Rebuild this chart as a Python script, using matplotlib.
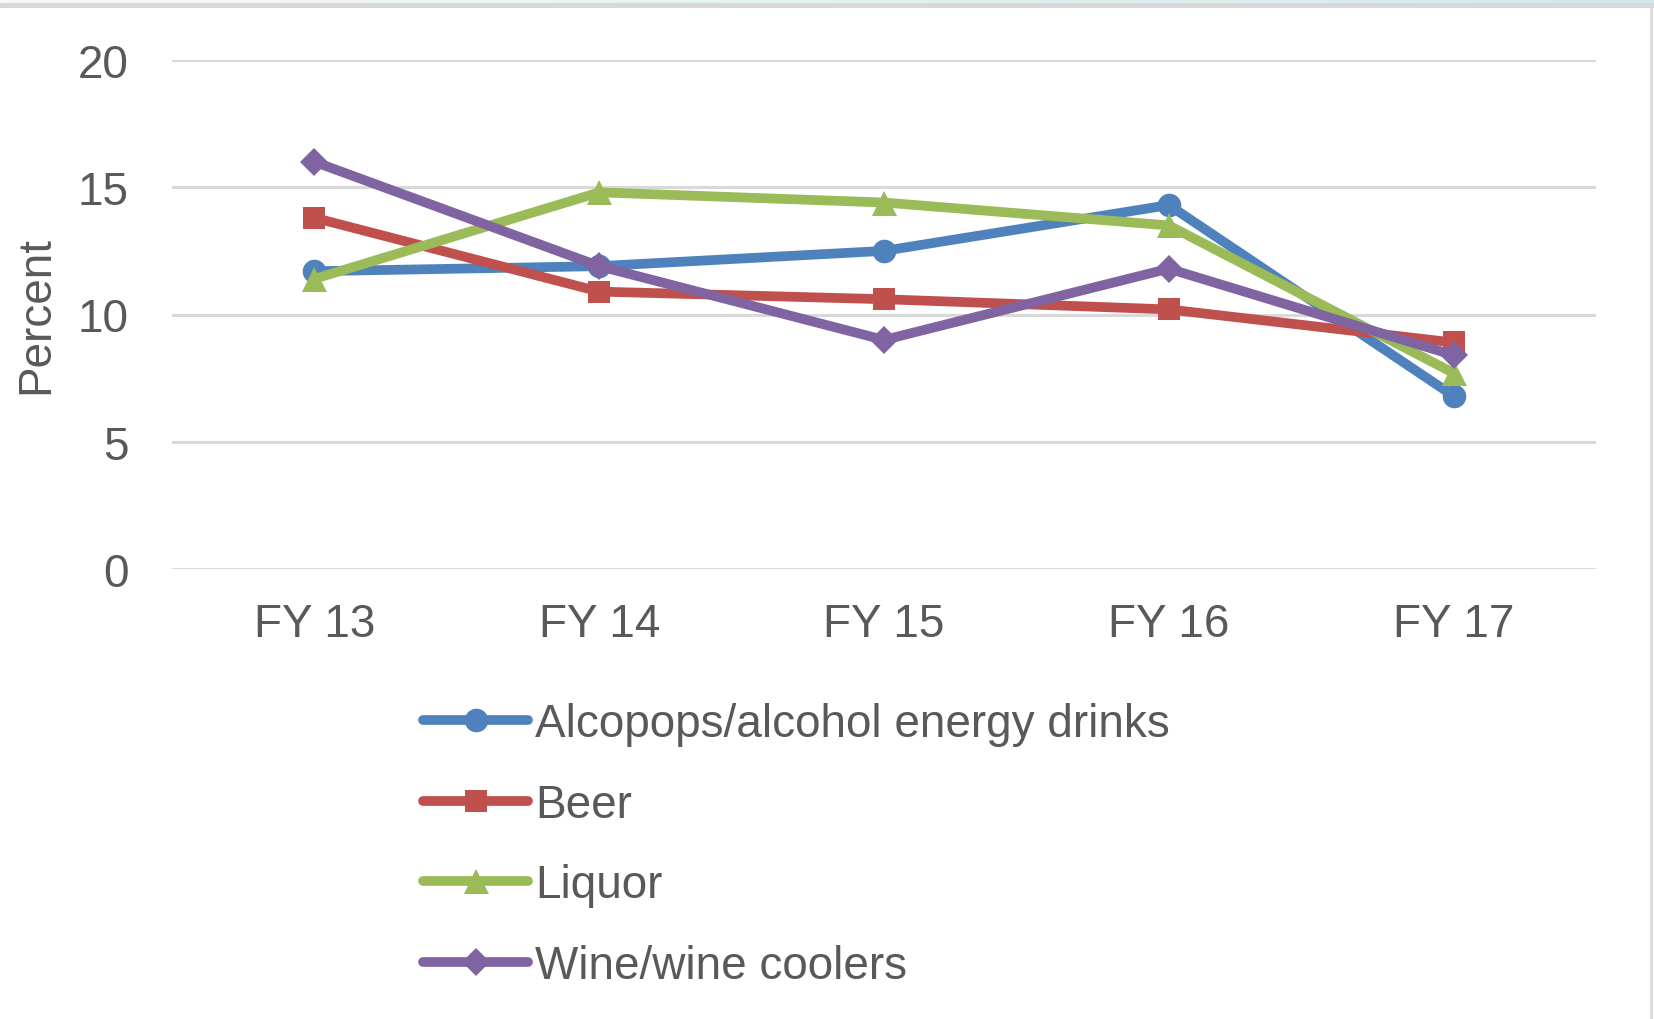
import matplotlib
matplotlib.use("Agg")
import matplotlib.pyplot as plt
from matplotlib.patches import Rectangle
from matplotlib.colors import LinearSegmentedColormap
import numpy as np

plt.rcParams['font.family'] = ['Liberation Sans', 'DejaVu Sans']

# 数据
years = ["FY 13", "FY 14", "FY 15", "FY 16", "FY 17"]
alcopops = [11.7, 11.9, 12.5, 14.3, 6.8]
beer = [13.8, 10.9, 10.6, 10.2, 8.9]
liquor = [11.4, 14.8, 14.4, 13.5, 7.7]
wine = [16.0, 11.9, 9.0, 11.8, 8.4]

series = [
    ("Alcopops/alcohol energy drinks", alcopops, "#4F81BD", "o", 17),
    ("Beer", beer, "#C0504D", "s", 16),
    ("Liquor", liquor, "#9BBB59", "^", 18),
    ("Wine/wine coolers", wine, "#8064A2", "D", 14),
]

text_color = "#595959"

fig = plt.figure(figsize=(16.54, 10.2), dpi=100)
fig.patch.set_facecolor("white")

# 顶部边框（浅青渐变 + 灰条）和右侧细线
grad = np.linspace(0, 1, 256).reshape(1, -1)
cmap_top = LinearSegmentedColormap.from_list("top", ["#f7f9f9", "#d3e9eb"])
ax_top = fig.add_axes([0, 1 - 4 / 1020, 1, 4 / 1020])
ax_top.imshow(grad, aspect="auto", cmap=cmap_top)
ax_top.axis("off")
fig.patches.append(Rectangle((0, 1 - 9 / 1020), 1, 5 / 1020, transform=fig.transFigure,
                             facecolor="#d8d8d8", edgecolor="none"))
fig.patches.append(Rectangle((1 - 4 / 1654, 0), 3 / 1654, 1 - 9 / 1020, transform=fig.transFigure,
                             facecolor="#dcdcdc", edgecolor="none"))

ax = fig.add_axes([172 / 1654, 450 / 1020, (1596 - 172) / 1654, (959 - 450) / 1020])
x = np.arange(len(years))

for label, vals, color, marker, ms in series:
    ax.plot(x, vals, color=color, linewidth=7, marker=marker, markersize=ms,
            markeredgewidth=0, label=label, solid_joinstyle="round",
            solid_capstyle="round", zorder=3)

ax.set_xlim(-0.5, len(years) - 0.5)
ax.set_ylim(0, 20)
ax.set_yticks([0, 5, 10, 15, 20])
ax.set_xticks(x)
ax.set_xticklabels(years)
ax.grid(axis="y", color="#d9d9d9", linewidth=2.2, zorder=0)
ax.tick_params(axis="both", length=0, labelsize=33, colors=text_color)
ax.tick_params(axis="y", pad=31)
ax.tick_params(axis="x", pad=24)
for s in ax.spines.values():
    s.set_visible(False)
ax.set_ylabel("Percent", fontsize=33, color=text_color, labelpad=14)

leg = ax.legend(loc="upper left", bbox_to_anchor=(423 / 1654, 1 - 703 / 1020),
                bbox_transform=fig.transFigure, frameon=False, fontsize=33,
                handlelength=2.3, handletextpad=0.15, labelspacing=0.8,
                borderaxespad=0, borderpad=0)
for t in leg.get_texts():
    t.set_color(text_color)

fig.savefig("out.png", dpi=100, facecolor="white")
